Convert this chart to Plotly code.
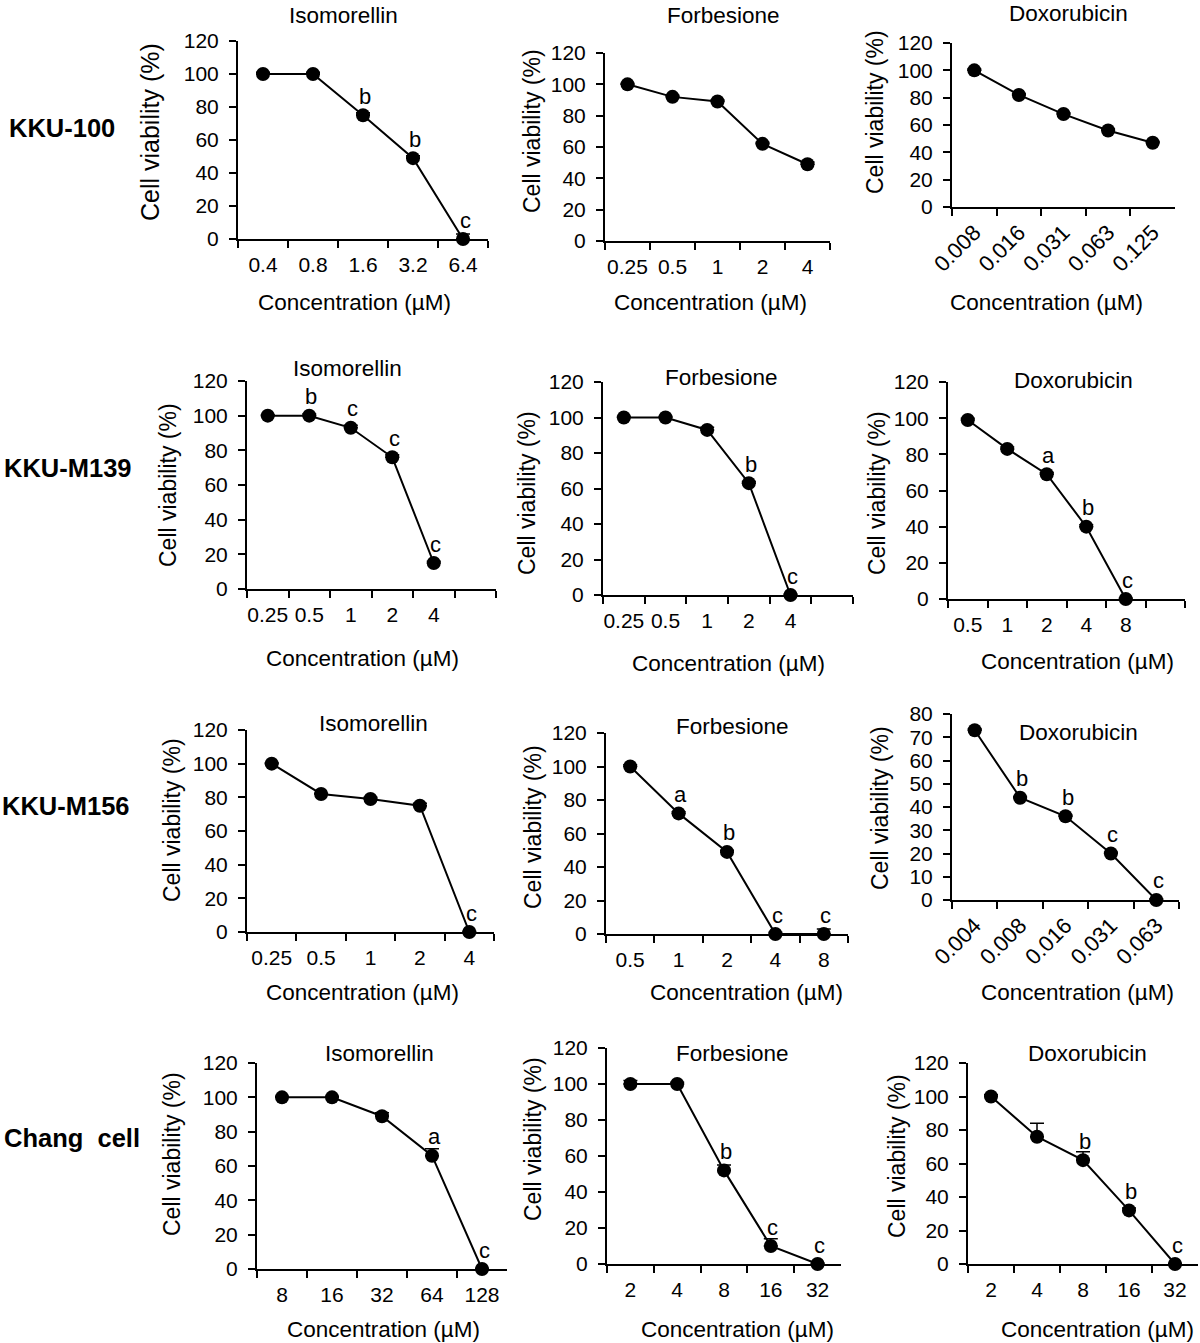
import plotly.graph_objects as go

FONT = "Liberation Sans, Arial, Helvetica, sans-serif"
W, H = 1200, 1343

cell_lines = ["KKU-100", "KKU-M139", "KKU-M156", "Chang  cell"]
drugs = ["Isomorellin", "Forbesione", "Doxorubicin"]
y_title = "Cell viability (%)"
x_title = "Concentration (µM)"

# ---------------- KKU-100 ----------------
k100_iso_conc = ["0.4", "0.8", "1.6", "3.2", "6.4"]
k100_iso_viab = [100, 100, 75, 49, 0]
k100_iso_err = [1, 1, 1.5, 1.5, 3]
k100_iso_sig = ["", "", "b", "b", "c"]

k100_for_conc = ["0.25", "0.5", "1", "2", "4"]
k100_for_viab = [100, 92, 89, 62, 49]
k100_for_err = [0.5, 1, 1, 1, 1.5]
k100_for_sig = ["", "", "", "", ""]

k100_dox_conc = ["0.008", "0.016", "0.031", "0.063", "0.125"]
k100_dox_viab = [100, 82, 68, 56, 47]
k100_dox_err = [1, 1, 1, 1, 1]
k100_dox_sig = ["", "", "", "", ""]

# ---------------- KKU-M139 ----------------
m139_iso_conc = ["0.25", "0.5", "1", "2", "4"]
m139_iso_viab = [100, 100, 93, 76, 15]
m139_iso_err = [0.5, 1, 1.5, 1.5, 1]
m139_iso_sig = ["", "b", "c", "c", "c"]

m139_for_conc = ["0.25", "0.5", "1", "2", "4"]
m139_for_viab = [100, 100, 93, 63, 0]
m139_for_err = [0.5, 0.5, 1.5, 1, 0.5]
m139_for_sig = ["", "", "", "b", "c"]

m139_dox_conc = ["0.5", "1", "2", "4", "8"]
m139_dox_viab = [99, 83, 69, 40, 0]
m139_dox_err = [1, 1, 1, 1, 0.5]
m139_dox_sig = ["", "", "a", "b", "c"]

# ---------------- KKU-M156 ----------------
m156_iso_conc = ["0.25", "0.5", "1", "2", "4"]
m156_iso_viab = [100, 82, 79, 75, 0]
m156_iso_err = [0.5, 0.5, 1, 1.5, 0.5]
m156_iso_sig = ["", "", "", "", "c"]

m156_for_conc = ["0.5", "1", "2", "4", "8"]
m156_for_viab = [100, 72, 49, 0, 0]
m156_for_err = [1, 1, 1, 1, 3]
m156_for_sig = ["", "a", "b", "c", "c"]

m156_dox_conc = ["0.004", "0.008", "0.016", "0.031", "0.063"]
m156_dox_viab = [73, 44, 36, 20, 0]
m156_dox_err = [0.5, 0.5, 0.5, 0.5, 0.5]
m156_dox_sig = ["", "b", "b", "c", "c"]

# ---------------- Chang cell ----------------
chang_iso_conc = ["8", "16", "32", "64", "128"]
chang_iso_viab = [100, 100, 89, 66, 0]
chang_iso_err = [0.5, 0.5, 2, 4, 0.5]
chang_iso_sig = ["", "", "", "a", "c"]

chang_for_conc = ["2", "4", "8", "16", "32"]
chang_for_viab = [100, 100, 52, 10, 0]
chang_for_err = [2, 1, 3, 4, 0.5]
chang_for_sig = ["", "", "b", "c", "c"]

chang_dox_conc = ["2", "4", "8", "16", "32"]
chang_dox_viab = [100, 76, 62, 32, 0]
chang_dox_err = [1, 8, 5, 1.5, 0.5]
chang_dox_sig = ["", "", "b", "b", "c"]

panels = [
    (k100_iso_conc, k100_iso_viab, k100_iso_err, k100_iso_sig),
    (k100_for_conc, k100_for_viab, k100_for_err, k100_for_sig),
    (k100_dox_conc, k100_dox_viab, k100_dox_err, k100_dox_sig),
    (m139_iso_conc, m139_iso_viab, m139_iso_err, m139_iso_sig),
    (m139_for_conc, m139_for_viab, m139_for_err, m139_for_sig),
    (m139_dox_conc, m139_dox_viab, m139_dox_err, m139_dox_sig),
    (m156_iso_conc, m156_iso_viab, m156_iso_err, m156_iso_sig),
    (m156_for_conc, m156_for_viab, m156_for_err, m156_for_sig),
    (m156_dox_conc, m156_dox_viab, m156_dox_err, m156_dox_sig),
    (chang_iso_conc, chang_iso_viab, chang_iso_err, chang_iso_sig),
    (chang_for_conc, chang_for_viab, chang_for_err, chang_for_sig),
    (chang_dox_conc, chang_dox_viab, chang_dox_err, chang_dox_sig),
]

# geometry (pixels): x0, x1, top, bottom, nbins, ymax, dtick, tickangle,
# panel title (x,y), x title (x,y), y title (x,y), y-title font size
geom = [
    (238, 488, 41, 239, 5, 120, 20, 0, (343, 15), (354, 302), (150, 132), 25),
    (605, 830, 53, 241, 5, 120, 20, 0, (723, 15), (710, 302), (532, 131), 23),
    (952, 1175, 43, 207, 5, 120, 20, -45, (1068, 13), (1046, 302), (875, 112), 23),
    (247, 496, 381, 589, 6, 120, 20, 0, (347, 368), (362, 658), (168, 485), 23),
    (603, 853, 382, 595, 6, 120, 20, 0, (721, 377), (728, 663), (527, 493), 23),
    (948, 1185, 382, 599, 6, 120, 20, 0, (1073, 380), (1077, 662), (877, 493), 23),
    (247, 494, 730, 932, 5, 120, 20, 0, (373, 723), (362, 992), (172, 820), 23),
    (606, 848, 733, 934, 5, 120, 20, 0, (732, 727), (746, 992), (533, 827), 23),
    (952, 1179, 714, 900, 5, 80, 10, -45, (1078, 732), (1077, 992), (880, 808), 23),
    (257, 507, 1063, 1269, 5, 120, 20, 0, (379, 1053), (383, 1329), (172, 1154), 23),
    (607, 841, 1048, 1264, 5, 120, 20, 0, (732, 1053), (737, 1329), (533, 1139), 23),
    (968, 1198, 1063, 1264, 5, 120, 20, 0, (1087, 1053), (1097, 1329), (897, 1156), 23),
]
row_label_pos = [(62, 128), (68, 468), (66, 806), (72, 1138)]

fig = go.Figure()
annotations = []

def px(x):
    return x / W

def py(y):
    return 1 - y / H

for i, ((conc, viab, err, sig), g) in enumerate(zip(panels, geom)):
    x0, x1, top, bot, nb, ymax, dt, ang, tpos, xtpos, ytpos, ytsize = g
    sfx = "" if i == 0 else str(i + 1)
    fig.add_trace(go.Scatter(
        x=conc, y=viab,
        mode="lines+markers",
        line=dict(color="black", width=2),
        marker=dict(size=14, color="black"),
        error_y=dict(type="data", symmetric=False, array=err,
                     arrayminus=[0] * len(err), color="black",
                     thickness=1.5, width=7),
        cliponaxis=False, showlegend=False,
        xaxis="x" + sfx, yaxis="y" + sfx,
    ))
    # significance letters above the points (category index on the x axis)
    for j, (v, s) in enumerate(zip(viab, sig)):
        if s:
            annotations.append(dict(text=s, x=j, y=v, xref="x" + sfx, yref="y" + sfx,
                                    showarrow=False, yshift=19, xshift=2,
                                    xanchor="center", yanchor="middle",
                                    font=dict(family=FONT, size=22, color="black")))
    cats = list(conc) + [" " * (k + 1) for k in range(nb - len(conc))]
    fig.layout["xaxis" + sfx] = dict(
        domain=[px(x0), px(x1)], anchor="y" + sfx,
        type="category", categoryorder="array", categoryarray=cats,
        range=[-0.5, nb - 0.5], tickson="boundaries",
        ticks="outside", ticklen=7, tickwidth=2, tickcolor="black",
        showline=True, linewidth=2, linecolor="black",
        showgrid=False, zeroline=False, tickangle=ang,
        ticklabelstandoff=6 if ang == 0 else 2,
        tickfont=dict(family=FONT, size=21 if ang == 0 else 22, color="black"),
        automargin=False, fixedrange=True,
    )
    fig.layout["yaxis" + sfx] = dict(
        domain=[py(bot), py(top)], anchor="x" + sfx,
        range=[0, ymax], dtick=dt, tick0=0,
        ticks="outside", ticklen=7, tickwidth=2, tickcolor="black",
        showline=True, linewidth=2, linecolor="black",
        showgrid=False, zeroline=False, ticklabelstandoff=6,
        tickfont=dict(family=FONT, size=21, color="black"),
        automargin=False, fixedrange=True,
    )
    annotations.append(dict(text=drugs[i % 3], x=px(tpos[0]), y=py(tpos[1]),
                            xref="paper", yref="paper", showarrow=False,
                            xanchor="center", yanchor="middle",
                            font=dict(family=FONT, size=22.5, color="black")))
    annotations.append(dict(text=x_title, x=px(xtpos[0]), y=py(xtpos[1]),
                            xref="paper", yref="paper", showarrow=False,
                            xanchor="center", yanchor="middle",
                            font=dict(family=FONT, size=22.5, color="black")))
    annotations.append(dict(text=y_title, x=px(ytpos[0]), y=py(ytpos[1]),
                            xref="paper", yref="paper", showarrow=False,
                            textangle=-90,
                            xanchor="center", yanchor="middle",
                            font=dict(family=FONT, size=ytsize, color="black")))

for name, (x, y) in zip(cell_lines, row_label_pos):
    annotations.append(dict(text="<b>" + name.replace("  ", "&nbsp; ") + "</b>",
                            x=px(x), y=py(y),
                            xref="paper", yref="paper", showarrow=False,
                            xanchor="center", yanchor="middle",
                            font=dict(family=FONT, size=25.5, color="black")))

fig.update_layout(
    width=W, height=H,
    margin=dict(l=0, r=0, t=0, b=0, pad=0, autoexpand=False),
    paper_bgcolor="white", plot_bgcolor="white",
    annotations=annotations, showlegend=False, hovermode=False,
    font=dict(family=FONT, color="black"),
)

fig.write_html(
    "out.html",
    config={"displayModeBar": False},
    post_script="document.body.style.margin='0px';"
                "document.body.style.overflow='hidden';",
)
